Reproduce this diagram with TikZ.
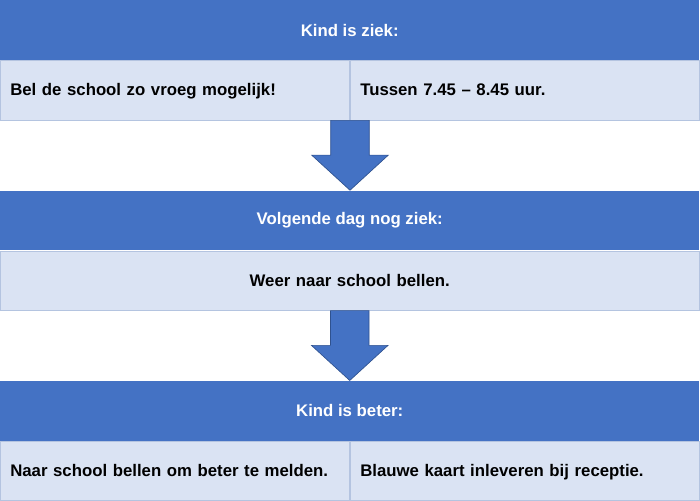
\documentclass[tikz,border=0pt]{standalone}
\usepackage{fontspec}
\setmainfont{Liberation Sans}
\usetikzlibrary{positioning,shapes.arrows}
\definecolor{kopblauw}{HTML}{4472C4}
\definecolor{vakblauw}{HTML}{DAE3F3}
\definecolor{vaklijn}{HTML}{B4C4E0}
\definecolor{pijlrand}{HTML}{2F528F}
\newcommand{\tekstfont}{\bfseries\fontsize{12.6}{15}\selectfont}
\tikzstyle{kop} = [fill=kopblauw, text=white, minimum width=525pt, minimum height=45pt, inner sep=0pt, font=\tekstfont]
\tikzstyle{vak} = [draw=vaklijn, fill=vakblauw, minimum width=262.5pt, minimum height=44.6pt, text width=247.5pt, text height=10.5pt, text depth=2.3pt, inner xsep=7.5pt, align=left, font=\tekstfont]
\tikzstyle{breed} = [vak, minimum width=525pt, text width=510pt, align=center]
\tikzstyle{pijl} = [single arrow, draw=pijlrand, line width=0.5pt, fill=kopblauw, rotate=-90, anchor=tail, minimum height=52.5pt, minimum width=57pt, single arrow head extend=14.25pt, single arrow tip angle=95, inner xsep=0pt, inner ysep=14.25pt, outer sep=0pt]

\begin{document}
\begin{tikzpicture}

\node [kop, anchor=north west] (ziek) at (0,0) {Kind is ziek:};
\node [vak, anchor=north west] (bellen) at (ziek.south west) {Bel de school zo vroeg mogelijk!};
\node [vak, right=0pt of bellen] (tijd) {Tussen 7.45 -- 8.45 uur.};

\node [kop, anchor=north west, yshift=-52.5pt] (volgende) at (bellen.south west) {Volgende dag nog ziek:};
\node [breed, anchor=north west] (weer) at (volgende.south west) {Weer naar school bellen.};

\node [kop, anchor=north west, yshift=-52.5pt] (beter) at (weer.south west) {Kind is beter:};
\node [vak, anchor=north west] (melden) at (beter.south west) {Naar school bellen om beter te melden.};
\node [vak, right=0pt of melden] (kaart) {Blauwe kaart inleveren bij receptie.};

\node [pijl] (pijl1) at (bellen.south east) {};
\node [pijl] (pijl2) at (weer.south) {};

\useasboundingbox (ziek.north west) rectangle ++(525pt,-374.8pt);

\end{tikzpicture}
\end{document}
